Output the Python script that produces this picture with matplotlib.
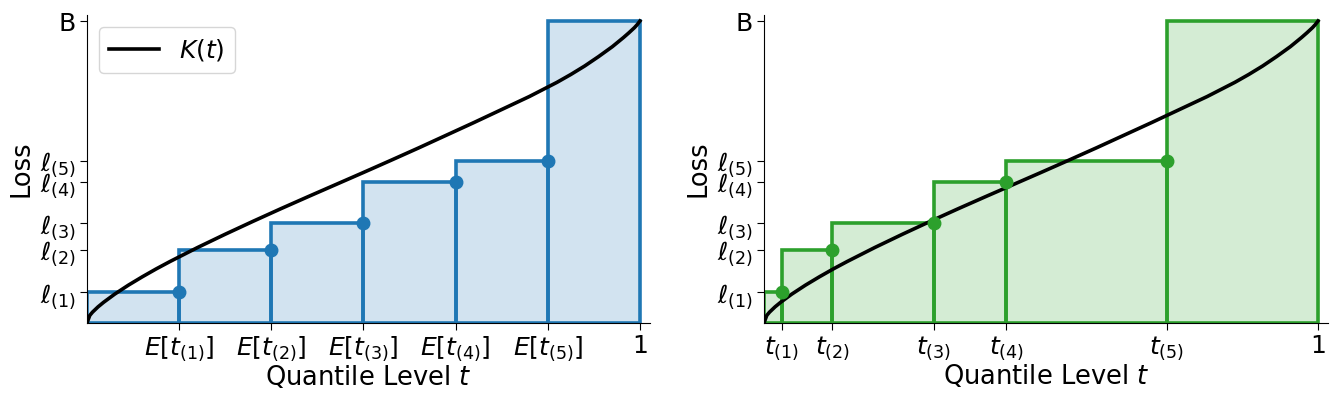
import numpy as np
import matplotlib
matplotlib.use("Agg")
import matplotlib.pyplot as plt
from matplotlib.colors import to_rgba

# loss levels l_(1)..l_(5) and the upper bound B (=1)
losses = [0.102, 0.242, 0.330, 0.468, 0.537]
B = 1.0

# left panel: expected quantile levels E[t_(i)]
exp_levels = [1/6, 2/6, 3/6, 4/6, 5/6]
# right panel: sampled quantile levels t_(i)
samp_levels = [0.032, 0.1235, 0.306, 0.437, 0.727]

# K(t)
kt_t = [0, 0.005, 0.01, 0.02, 0.03, 0.05, 0.075, 0.1, 0.125, 0.15, 0.2, 0.25,
        0.3, 0.35, 0.4, 0.45, 0.5, 0.55, 0.6, 0.65, 0.7, 0.75, 0.8, 0.85,
        0.875, 0.9, 0.925, 0.95, 0.97, 0.98, 0.99, 0.995, 1.0]
kt_k = [0, 0.025, 0.036, 0.0535, 0.0685, 0.0955, 0.1255, 0.153, 0.179, 0.2035,
        0.25, 0.294, 0.3365, 0.378, 0.4185, 0.4585, 0.4985, 0.539, 0.580, 0.622,
        0.664, 0.707, 0.750, 0.797, 0.823, 0.851, 0.882, 0.915, 0.945, 0.961,
        0.978, 0.988, 1.0]

loss_labels = [r'$\ell_{(%d)}$' % i for i in range(1, 6)] + ['B']
exp_labels = [r'$E[t_{(%d)}]$' % i for i in range(1, 6)] + ['1']
samp_labels = [r'$t_{(%d)}$' % i for i in range(1, 6)] + ['1']


def panel(ax, xs, color, xlabels):
    edges = [0] + list(xs) + [1]
    heights = list(losses) + [B]
    lefts = edges[:-1]
    widths = np.diff(edges)
    ax.bar(lefts, heights, widths, align='edge', facecolor=to_rgba(color, 0.2),
           edgecolor=color, linewidth=2.6, zorder=1)
    ax.plot(kt_t, kt_k, color='k', lw=2.6, label='$K(t)$', zorder=3)
    ax.plot(xs, losses, 'o', color=color, ms=9, zorder=4)
    ax.set_xlim(0, 1.018)
    ax.set_ylim(0, 1.02)
    ax.set_xticks(list(xs) + [1])
    ax.set_xticklabels(xlabels, fontsize=18)
    ax.set_yticks(list(losses) + [B])
    ax.set_yticklabels(loss_labels, fontsize=18)
    ax.set_xlabel('Quantile Level $t$', fontsize=18.5, labelpad=1)
    ax.set_ylabel('Loss', fontsize=18.5, labelpad=4)
    ax.spines['top'].set_visible(False)
    ax.spines['right'].set_visible(False)
    ax.tick_params(length=5, pad=3)


fig = plt.figure(figsize=(13.34, 3.98), dpi=100)
ax1 = fig.add_axes([0.0652, 0.1884, 0.422, 0.774])
ax2 = fig.add_axes([0.5727, 0.1884, 0.4228, 0.774])

panel(ax1, exp_levels, 'tab:blue', exp_labels)
panel(ax2, samp_levels, 'tab:green', samp_labels)

ax1.legend(loc='upper left', fontsize=18, handlelength=2.0, borderaxespad=0.5)

fig.savefig('out.png', dpi=100)
